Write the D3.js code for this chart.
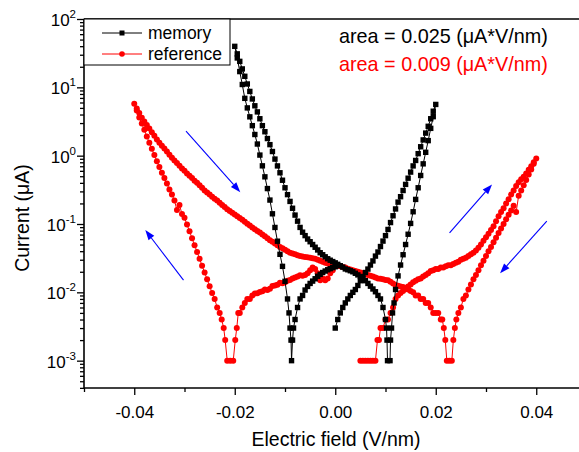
<!DOCTYPE html>
<html><head><meta charset="utf-8">
<script src="https://cdn.jsdelivr.net/npm/d3@7"></script>
<style>body{margin:0;background:#fff}svg{display:block}text{font-family:"Liberation Sans",Arial,Helvetica,sans-serif}</style>
</head><body><svg id="c" width="579" height="452"></svg>
<script>
// ---------------- data (field in V/nm, current in µA) ----------------
// memory: sweep 0 -> +0.02
const memorySweep1=[[0.0000,0.003],[0.0005,0.004],[0.0010,0.005],[0.0015,0.006],[0.0020,0.007],[0.0025,0.008],[0.0030,0.009],[0.0035,0.010],[0.0040,0.011],[0.0045,0.0126],[0.0050,0.0148],[0.0055,0.017],[0.0060,0.0195],[0.0065,0.0219],[0.0070,0.0251],[0.0075,0.0288],[0.0080,0.0339],[0.0085,0.0389],[0.0090,0.0468],[0.0095,0.0562],[0.0100,0.0676],[0.0105,0.0832],[0.0110,0.105],[0.0115,0.132],[0.0120,0.166],[0.0125,0.209],[0.0130,0.251],[0.0135,0.309],[0.0140,0.380],[0.0145,0.468],[0.0150,0.575],[0.0155,0.708],[0.0160,0.851],[0.0165,1.07],[0.0170,1.35],[0.0175,1.70],[0.0180,2.14],[0.0185,2.69],[0.0190,3.47],[0.0195,4.47],[0.0200,5.62]];
// memory: sweep +0.02 -> zero crossing
const memorySweep2=[[0.0195,3.72],[0.0190,2.51],[0.0185,1.66],[0.0180,1.12],[0.0175,0.759],[0.0170,0.513],[0.0165,0.339],[0.0160,0.229],[0.0155,0.151],[0.0150,0.102],[0.0145,0.0708],[0.0140,0.0501],[0.0135,0.0355],[0.0130,0.0251],[0.0125,0.0174],[0.0120,0.011],[0.0117,0.007],[0.0114,0.005],[0.0112,0.003],[0.0110,0.002],[0.0109,0.001]];
// memory: zero crossing -> -0.02
const memorySweep3=[[0.0104,0.001],[0.0103,0.002],[0.0102,0.003],[0.0100,0.004],[0.0095,0.006],[0.0090,0.008],[0.0085,0.009],[0.0080,0.0102],[0.0075,0.0112],[0.0070,0.0123],[0.0065,0.0135],[0.0060,0.0148],[0.0055,0.016],[0.0050,0.017],[0.0045,0.018],[0.0040,0.019],[0.0035,0.020],[0.0030,0.0207],[0.0025,0.0214],[0.0020,0.022],[0.0015,0.0234],[0.0010,0.0245],[0.0005,0.0257],[0.0000,0.027],[-0.0005,0.0282],[-0.0010,0.0295],[-0.0015,0.031],[-0.0020,0.0331],[-0.0025,0.0355],[-0.0030,0.038],[-0.0035,0.0417],[-0.0040,0.0457],[-0.0045,0.0501],[-0.0050,0.055],[-0.0055,0.0603],[-0.0060,0.0676],[-0.0065,0.0759],[-0.0070,0.0891],[-0.0075,0.110],[-0.0080,0.135],[-0.0085,0.170],[-0.0090,0.214],[-0.0095,0.269],[-0.0100,0.339],[-0.0105,0.437],[-0.0110,0.562],[-0.0115,0.708],[-0.0120,0.891],[-0.0125,1.15],[-0.0130,1.45],[-0.0135,1.78],[-0.0140,2.24],[-0.0145,2.75],[-0.0150,3.47],[-0.0155,4.37],[-0.0160,5.37],[-0.0165,6.76],[-0.0170,8.71],[-0.0175,11.2],[-0.0180,14.5],[-0.0185,18.6],[-0.0190,24.0],[-0.0195,30.9],[-0.0200,39.8]];
// memory: -0.02 -> 0
const memorySweep4=[[-0.0195,26.9],[-0.0190,17.0],[-0.0185,11.0],[-0.0180,6.9],[-0.0175,5.0],[-0.0170,3.7],[-0.0165,2.75],[-0.0160,2.04],[-0.0155,1.48],[-0.0150,1.02],[-0.0145,0.71],[-0.0140,0.49],[-0.0135,0.33],[-0.0130,0.224],[-0.0125,0.141],[-0.0120,0.089],[-0.0115,0.056],[-0.0110,0.036],[-0.0105,0.024],[-0.0100,0.0145],[-0.0095,0.008],[-0.0092,0.005],[-0.0090,0.003],[-0.0088,0.002],[-0.0087,0.001],[-0.0085,0.002],[-0.0083,0.003],[-0.0080,0.004],[-0.0075,0.006],[-0.0070,0.008],[-0.0065,0.009],[-0.0060,0.0108],[-0.0055,0.0122],[-0.0050,0.0135],[-0.0045,0.0146],[-0.0040,0.0158],[-0.0035,0.0172],[-0.0030,0.0183],[-0.0025,0.0195],[-0.0020,0.0205],[-0.0015,0.0214],[-0.0010,0.0222],[-0.0005,0.023],[0.0000,0.0237]];
// reference: 0 -> -0.04
const referenceSweep1=[[0.0000,0.024],[-0.0005,0.021],[-0.0010,0.019],[-0.0015,0.016],[-0.0020,0.015],[-0.0025,0.016],[-0.0030,0.015],[-0.0035,0.019],[-0.0040,0.022],[-0.0045,0.023],[-0.0050,0.021],[-0.0055,0.019],[-0.0060,0.018],[-0.0065,0.0175],[-0.0070,0.0178],[-0.0075,0.017],[-0.0080,0.0165],[-0.0085,0.016],[-0.0090,0.0152],[-0.0095,0.0148],[-0.0100,0.014],[-0.0105,0.0136],[-0.0110,0.0138],[-0.0115,0.0129],[-0.0120,0.0126],[-0.0125,0.0124],[-0.0130,0.0113],[-0.0135,0.0108],[-0.0140,0.011],[-0.0145,0.0104],[-0.0150,0.0101],[-0.0155,0.0097],[-0.0160,0.0096],[-0.0165,0.009],[-0.0170,0.008],[-0.0175,0.008],[-0.0180,0.007],[-0.0185,0.006],[-0.0190,0.005],[-0.0193,0.005],[-0.0196,0.003],[-0.0199,0.002],[-0.0203,0.001],[-0.0209,0.001],[-0.0215,0.001],[-0.0219,0.002],[-0.0222,0.003],[-0.0226,0.004],[-0.0230,0.005],[-0.0235,0.006],[-0.0240,0.008],[-0.0245,0.0098],[-0.0250,0.0123],[-0.0255,0.0155],[-0.0260,0.0195],[-0.0265,0.0245],[-0.0270,0.031],[-0.0275,0.039],[-0.0280,0.049],[-0.0285,0.062],[-0.0290,0.078],[-0.0295,0.098],[-0.0300,0.123],[-0.0305,0.14],[-0.0310,0.19],[-0.0315,0.16],[-0.0320,0.22],[-0.0325,0.27],[-0.0330,0.32],[-0.0335,0.39],[-0.0340,0.47],[-0.0345,0.56],[-0.0350,0.68],[-0.0355,0.83],[-0.0360,1.02],[-0.0365,1.26],[-0.0370,1.55],[-0.0375,1.91],[-0.0380,2.40],[-0.0385,2.95],[-0.0390,3.63],[-0.0395,4.57],[-0.0400,5.75]];
// reference: -0.04 -> +0.04
const referenceSweep2=[[-0.0395,4.9],[-0.0390,4.2],[-0.0385,3.6],[-0.0380,3.15],[-0.0375,2.8],[-0.0370,2.5],[-0.0365,2.2],[-0.0360,1.95],[-0.0355,1.72],[-0.0350,1.55],[-0.0345,1.40],[-0.0340,1.27],[-0.0335,1.15],[-0.0330,1.03],[-0.0325,0.93],[-0.0320,0.85],[-0.0315,0.78],[-0.0310,0.71],[-0.0305,0.65],[-0.0300,0.60],[-0.0295,0.55],[-0.0290,0.51],[-0.0285,0.47],[-0.0280,0.43],[-0.0275,0.40],[-0.0270,0.37],[-0.0265,0.34],[-0.0260,0.31],[-0.0255,0.29],[-0.0250,0.27],[-0.0245,0.25],[-0.0240,0.235],[-0.0235,0.22],[-0.0230,0.205],[-0.0225,0.19],[-0.0220,0.178],[-0.0215,0.165],[-0.0210,0.155],[-0.0205,0.146],[-0.0200,0.138],[-0.0195,0.13],[-0.0190,0.122],[-0.0185,0.115],[-0.0180,0.108],[-0.0175,0.101],[-0.0170,0.095],[-0.0165,0.089],[-0.0160,0.084],[-0.0155,0.079],[-0.0150,0.075],[-0.0145,0.070],[-0.0140,0.066],[-0.0135,0.062],[-0.0130,0.058],[-0.0125,0.055],[-0.0120,0.052],[-0.0115,0.049],[-0.0110,0.046],[-0.0105,0.044],[-0.0100,0.042],[-0.0095,0.040],[-0.0090,0.038],[-0.0085,0.037],[-0.0080,0.036],[-0.0075,0.035],[-0.0070,0.034],[-0.0065,0.0335],[-0.0060,0.033],[-0.0055,0.0325],[-0.0050,0.032],[-0.0045,0.0315],[-0.0040,0.031],[-0.0035,0.030],[-0.0030,0.029],[-0.0025,0.028],[-0.0020,0.027],[-0.0015,0.0265],[-0.0010,0.026],[-0.0005,0.0255],[0.0000,0.025],[0.0005,0.0245],[0.0010,0.024],[0.0015,0.0235],[0.0020,0.023],[0.0025,0.0222],[0.0030,0.0215],[0.0035,0.021],[0.0040,0.0205],[0.0045,0.020],[0.0050,0.0195],[0.0055,0.019],[0.0060,0.0185],[0.0065,0.018],[0.0070,0.0175],[0.0075,0.017],[0.0080,0.0165],[0.0085,0.016],[0.0090,0.0158],[0.0095,0.0155],[0.0100,0.0152],[0.0105,0.015],[0.0110,0.0143],[0.0115,0.0135],[0.0120,0.0128],[0.0125,0.0125],[0.0130,0.0122],[0.0135,0.012],[0.0140,0.0115],[0.0145,0.011],[0.0150,0.0105],[0.0155,0.010],[0.0160,0.009],[0.0165,0.009],[0.0170,0.008],[0.0175,0.008],[0.0180,0.007],[0.0185,0.007],[0.0190,0.006],[0.0195,0.005],[0.0200,0.005],[0.0205,0.005],[0.0210,0.004],[0.0213,0.004],[0.0216,0.003],[0.0219,0.002],[0.0222,0.001],[0.0227,0.001],[0.0232,0.001],[0.0235,0.002],[0.0238,0.003],[0.0241,0.004],[0.0245,0.005],[0.0250,0.006],[0.0255,0.008],[0.0260,0.009],[0.0265,0.011],[0.0270,0.013],[0.0275,0.0155],[0.0280,0.018],[0.0285,0.021],[0.0290,0.025],[0.0295,0.029],[0.0300,0.034],[0.0305,0.040],[0.0310,0.046],[0.0315,0.054],[0.0320,0.063],[0.0325,0.074],[0.0330,0.086],[0.0335,0.100],[0.0340,0.117],[0.0345,0.136],[0.0350,0.158],[0.0355,0.185],[0.0360,0.15],[0.0365,0.26],[0.0370,0.31],[0.0375,0.37],[0.0380,0.44],[0.0385,0.53],[0.0390,0.63],[0.0395,0.76],[0.0400,0.91]];
// reference: +0.04 -> 0
const referenceSweep3=[[0.0395,0.80],[0.0390,0.70],[0.0385,0.62],[0.0380,0.55],[0.0375,0.49],[0.0370,0.45],[0.0365,0.41],[0.0360,0.36],[0.0355,0.31],[0.0350,0.27],[0.0345,0.23],[0.0340,0.20],[0.0335,0.17],[0.0330,0.15],[0.0325,0.13],[0.0320,0.11],[0.0315,0.093],[0.0310,0.082],[0.0305,0.072],[0.0300,0.064],[0.0295,0.057],[0.0290,0.050],[0.0285,0.045],[0.0280,0.041],[0.0275,0.038],[0.0270,0.036],[0.0265,0.034],[0.0260,0.032],[0.0255,0.031],[0.0250,0.030],[0.0245,0.028],[0.0240,0.027],[0.0235,0.026],[0.0230,0.025],[0.0225,0.025],[0.0220,0.024],[0.0215,0.023],[0.0210,0.023],[0.0205,0.022],[0.0200,0.022],[0.0195,0.021],[0.0190,0.0205],[0.0185,0.019],[0.0180,0.018],[0.0175,0.017],[0.0170,0.016],[0.0165,0.0155],[0.0160,0.0148],[0.0155,0.014],[0.0150,0.013],[0.0145,0.0122],[0.0140,0.0115],[0.0135,0.0105],[0.0130,0.0098],[0.0125,0.009],[0.0120,0.008],[0.0115,0.006],[0.0110,0.005],[0.0105,0.004],[0.0100,0.004],[0.0095,0.003],[0.0090,0.003],[0.0087,0.002],[0.0084,0.002],[0.0080,0.001],[0.0075,0.001],[0.0070,0.001],[0.0065,0.001],[0.0060,0.001],[0.0055,0.001],[0.0050,0.001]];

const seriesNames=["memory","reference"];
const seriesColors=["#000000","#ff0000"];
const xTickValues=[-0.04,-0.02,0.00,0.02,0.04];
const xMinorTickValues=[-0.05,-0.03,-0.01,0.01,0.03,0.05];
const yTickExponents=[-3,-2,-1,0,1,2];
const areaLabels=["area = 0.025 (\u03bcA*V/nm)","area = 0.009 (\u03bcA*V/nm)"];
const xTitle="Electric field (V/nm)";
const yTitle="Current (\u03bcA)";
// sweep-direction arrows, [field, current] tail -> head
const sweepArrows=[[[-0.0297,2.28],[-0.0189,0.292]],[[-0.0302,0.0151],[-0.0378,0.0815]],[[0.02275,0.0743],[0.0312,0.379]],[[0.0421,0.110],[0.0328,0.019]]];

// ---------------- chart ----------------
const L=84,T=19,R=586.5,B=388;
const svg=d3.select("#c");
const x=d3.scaleLinear().domain([-0.05,0.05]).range([L,R]);
const y=d3.scaleLog().domain([Math.pow(10,-3.4),100]).range([B,T]);

svg.append("rect").attr("width",579).attr("height",452).attr("fill","#fff");
svg.append("clipPath").attr("id","clip").append("rect").attr("x",L).attr("y",T).attr("width",R-L).attr("height",B-T);

// axes ticks
const xAxisMajor=d3.axisBottom(x).tickValues(xTickValues).tickSize(7).tickSizeOuter(0).tickFormat(d=>d.toFixed(2));
const gx=svg.append("g").attr("transform",`translate(0,${B})`).call(xAxisMajor);
gx.select(".domain").remove();
gx.selectAll("text").attr("font-size",17).attr("font-family","Liberation Sans, Arial, sans-serif").attr("fill","#000").attr("dy",null).attr("y",null).attr("transform","translate(0,30)");
const gxm=svg.append("g").attr("transform",`translate(0,${B})`).call(d3.axisBottom(x).tickValues(xMinorTickValues).tickSize(4).tickSizeOuter(0).tickFormat(""));
gxm.select(".domain").remove();

const yMinor=[];
for(let e=-4;e<=1;e++){for(let k=2;k<=9;k++){const v=k*Math.pow(10,e);if(v>=Math.pow(10,-3.4)&&v<=100)yMinor.push(v);}}
const gym=svg.append("g").attr("transform",`translate(${L},0)`).call(d3.axisLeft(y).tickValues(yMinor).tickSize(4).tickSizeOuter(0).tickFormat(""));
gym.select(".domain").remove();
const gy=svg.append("g").attr("transform",`translate(${L},0)`).call(d3.axisLeft(y).tickValues(yTickExponents.map(e=>Math.pow(10,e))).tickSize(7).tickSizeOuter(0).tickFormat(""));
gy.select(".domain").remove();
gy.selectAll(".tick").each(function(d,i){
  const t=d3.select(this).append("text").attr("x",-8).attr("y",6.5).attr("text-anchor","end").attr("fill","#000").attr("font-size",17).attr("font-family","Liberation Sans, Arial, sans-serif");
  t.append("tspan").text("10");
  t.append("tspan").attr("font-size",11.5).attr("dy",-8).text(String(yTickExponents[i]));
});
svg.selectAll(".tick line").attr("stroke","#000").attr("stroke-width",1.3);

// frame
const frame=svg.append("g").attr("stroke","#000").attr("stroke-width",1.6);
frame.append("line").attr("x1",L).attr("x2",R).attr("y1",T).attr("y2",T);
frame.append("line").attr("x1",L).attr("x2",L).attr("y1",T).attr("y2",B);
frame.append("line").attr("x1",L).attr("x2",R).attr("y1",B).attr("y2",B);

// series
const line=d3.line().x(d=>x(d[0])).y(d=>y(d[1]));
const memory=[...memorySweep1,...memorySweep2,...memorySweep3,...memorySweep4];
const reference=[...referenceSweep1,...referenceSweep2,...referenceSweep3];
const plot=svg.append("g").attr("clip-path","url(#clip)");
function drawSeries(pts,color,shape){
  const g=plot.append("g");
  g.append("path").datum(pts).attr("fill","none").attr("stroke",color).attr("stroke-width",1).attr("d",line);
  if(shape==="square"){
    g.selectAll("rect").data(pts).join("rect").attr("x",d=>x(d[0])-2.7).attr("y",d=>y(d[1])-2.7).attr("width",5.4).attr("height",5.4).attr("fill",color);
  }else{
    g.selectAll("circle").data(pts).join("circle").attr("cx",d=>x(d[0])).attr("cy",d=>y(d[1])).attr("r",3.0).attr("fill",color);
  }
}
drawSeries(reference,seriesColors[1],"circle");
drawSeries(memory,seriesColors[0],"square");

// arrows
const ag=svg.append("g");
sweepArrows.forEach(([a,b])=>{
  const x1=x(a[0]),y1=y(a[1]),x2=x(b[0]),y2=y(b[1]);
  const ang=Math.atan2(y2-y1,x2-x1),hl=10,hw=3.6;
  const bx=x2-hl*Math.cos(ang),by=y2-hl*Math.sin(ang);
  ag.append("line").attr("x1",x1).attr("y1",y1).attr("x2",bx).attr("y2",by).attr("stroke","#0000ff").attr("stroke-width",1.1);
  ag.append("path").attr("d",`M${x2},${y2}L${bx-hw*Math.sin(ang)},${by+hw*Math.cos(ang)}L${bx+hw*Math.sin(ang)},${by-hw*Math.cos(ang)}Z`).attr("fill","#0000ff");
});

// legend
const lg=svg.append("g");
lg.append("rect").attr("x",L).attr("y",T).attr("width",146).attr("height",46).attr("fill","#fff").attr("stroke","#000").attr("stroke-width",1);
seriesNames.forEach((n,i)=>{
  const yy=33+i*21;
  lg.append("line").attr("x1",102).attr("x2",142).attr("y1",yy).attr("y2",yy).attr("stroke",seriesColors[i]).attr("stroke-width",1);
  if(i===0) lg.append("rect").attr("x",122-2.5).attr("y",yy-2.5).attr("width",5).attr("height",5).attr("fill",seriesColors[i]);
  else lg.append("circle").attr("cx",122).attr("cy",yy).attr("r",2.8).attr("fill",seriesColors[i]);
  lg.append("text").attr("x",148).attr("y",yy+6).attr("font-size",17.5).attr("fill","#000").text(n);
});

// area annotations
areaLabels.forEach((t,i)=>{
  svg.append("text").attr("x",339).attr("y",43+i*28).attr("font-size",19.8).attr("fill",seriesColors[i]).text(t);
});

// axis titles
svg.append("text").attr("x",336).attr("y",446).attr("text-anchor","middle").attr("font-size",19.5).attr("fill","#000").text(xTitle);
svg.append("text").attr("transform","translate(29,218) rotate(-90)").attr("text-anchor","middle").attr("font-size",19.5).attr("fill","#000").text(yTitle);
</script></body></html>
